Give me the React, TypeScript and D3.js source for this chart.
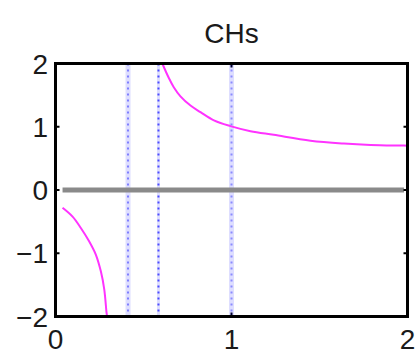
import React from "react";
import * as d3 from "d3";

// Curve branches (x, y) on either side of the pole
const leftX = [0.04, 0.097, 0.144, 0.191, 0.229, 0.258, 0.277, 0.29, 0.293];
const leftY = [-0.28, -0.42, -0.6, -0.81, -1.02, -1.29, -1.57, -1.94, -2.0];
const rightX = [0.607, 0.644, 0.672, 0.71, 0.767, 0.824, 0.9, 0.994, 1.108, 1.24, 1.449, 1.638, 1.79, 1.98, 2.0];
const rightY = [2.0, 1.77, 1.625, 1.48, 1.335, 1.23, 1.1, 1.01, 0.93, 0.872, 0.78, 0.735, 0.713, 0.702, 0.7];

// Zero baseline extent
const baseX = [0.04, 1.98];
const baseY = [0, 0];

// Vertical reference markers
const markerX = [0.412, 0.585, 1.0];
const markerDot = ["#7f7fff", "#4a4aff", "#8a8aff"];

const xTicks = [0, 1, 2];
const yTicks = [-2, -1, 0, 1, 2];
const title = "CHs";

const W = 417;
const H = 350;
const left = 55.5;
const right = 407.5;
const top = 63.5;
const bottom = 316.5;

export default function App() {
  const x = d3.scaleLinear().domain([0, 2]).range([left, right]);
  const y = d3.scaleLinear().domain([-2, 2]).range([bottom, top]);

  const line = d3
    .line<[number, number]>()
    .x((d) => x(d[0]))
    .y((d) => y(d[1]))
    .curve(d3.curveCatmullRom.alpha(0.5));

  const leftPts = leftX.map((v, i) => [v, leftY[i]] as [number, number]);
  const rightPts = rightX.map((v, i) => [v, rightY[i]] as [number, number]);
  const basePts = baseX.map((v, i) => [v, baseY[i]] as [number, number]);

  const font = "'Liberation Sans', Arial, Helvetica, sans-serif";

  return (
    <svg
      width={W}
      height={H}
      style={{ position: "absolute", left: 0, top: 0, background: "#fff" }}
    >
      <defs>
        <clipPath id="plotClip">
          <rect x={left} y={top} width={right - left} height={bottom - top} />
        </clipPath>
      </defs>
      <text
        x={(left + right) / 2}
        y={42.5}
        textAnchor="middle"
        fontFamily={font}
        fontSize={28}
        fill="#1a1a1a"
      >
        {title}
      </text>

      <g clipPath="url(#plotClip)">
        {markerX.map((v, i) => (
          <g key={i}>
            <line
              x1={x(v)}
              x2={x(v)}
              y1={top}
              y2={bottom}
              stroke="#dedeff"
              strokeWidth={i === 1 ? 3 : 5}
            />
            <line
              x1={x(v)}
              x2={x(v)}
              y1={top}
              y2={bottom}
              stroke={markerDot[i]}
              strokeWidth={2}
              strokeDasharray="2,4"
            />
          </g>
        ))}
        <path
          d={line(basePts) || ""}
          fill="none"
          stroke="#8a8a8a"
          strokeWidth={5}
        />
        <path d={line(leftPts) || ""} fill="none" stroke="#ff33ff" strokeWidth={2} />
        <path d={line(rightPts) || ""} fill="none" stroke="#ff33ff" strokeWidth={2} />
      </g>

      {/* tick marks */}
      {yTicks
        .filter((t) => t > -2 && t < 2)
        .map((t) => (
          <g key={"yt" + t}>
            <line x1={left} x2={left + 4} y1={y(t)} y2={y(t)} stroke="#000" strokeWidth={2} />
            <line x1={right - 4} x2={right} y1={y(t)} y2={y(t)} stroke="#000" strokeWidth={2} />
          </g>
        ))}
      {xTicks
        .filter((t) => t > 0 && t < 2)
        .map((t) => (
          <g key={"xt" + t}>
            <line x1={x(t)} x2={x(t)} y1={top} y2={top + 4} stroke="#000033" strokeWidth={2} />
            <line x1={x(t)} x2={x(t)} y1={bottom - 4} y2={bottom} stroke="#000033" strokeWidth={2} />
          </g>
        ))}

      <rect
        x={left}
        y={top}
        width={right - left}
        height={bottom - top}
        fill="none"
        stroke="#000"
        strokeWidth={3}
      />

      {yTicks.map((t) => (
        <text
          key={"yl" + t}
          x={48}
          y={y(t) + 10}
          textAnchor="end"
          fontFamily={font}
          fontSize={28}
          fill="#1a1a1a"
        >
          {t < 0 ? "\u2212" + Math.abs(t) : String(t)}
        </text>
      ))}
      {xTicks.map((t) => (
        <text
          key={"xl" + t}
          x={x(t)}
          y={349}
          textAnchor="middle"
          fontFamily={font}
          fontSize={28}
          fill="#1a1a1a"
        >
          {t}
        </text>
      ))}
    </svg>
  );
}
